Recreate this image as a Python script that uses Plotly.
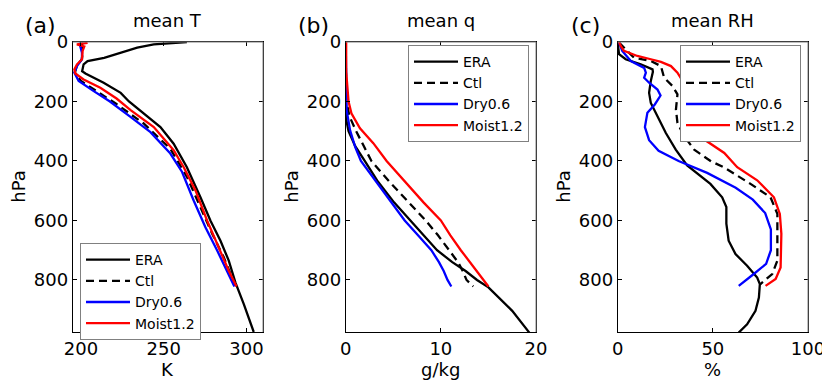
import plotly.graph_objects as go

# ---- panel (a): mean T (K) ----
p_T_era = [0, 8, 19, 36, 53, 64, 75, 98, 106, 137, 171, 200, 240, 286, 342, 421, 522, 600, 668, 735, 808, 881, 975]
T_era = [264, 244, 234, 224, 214, 204, 201.6, 200.7, 202.7, 213.7, 224, 229, 238, 248, 256, 264, 272.2, 278.2, 284.3, 289.3, 293.3, 298.4, 304.4]
p_T_ctl = [2, 13, 36, 58, 81, 103, 131, 165, 207, 274, 359, 454, 555, 645, 724, 820]
T_ctl = [201, 200.5, 201, 200.5, 197.5, 196.3, 200, 209.5, 221, 237.9, 254, 264.1, 272.2, 279.3, 286.3, 293.3]
p_T_dry = [2, 13, 36, 58, 81, 103, 131, 165, 200, 252, 303, 375, 437, 533, 623, 701, 769, 822]
T_dry = [199, 199.6, 200.6, 200.6, 197.6, 196, 198.6, 207.7, 217.5, 229.9, 242, 254, 261.1, 268.1, 275.2, 282.3, 288.3, 292.7]
p_T_moist = [3, 8, 15, 30, 58, 75, 92, 106, 126, 154, 190, 229, 286, 364, 421, 499, 600, 690, 769, 822]
T_moist = [204, 197.5, 202, 201, 200.6, 197.6, 196, 196.6, 201.6, 211.7, 221.5, 230, 244, 256, 262.1, 269.2, 276.2, 283.3, 289.3, 294]

# ---- panel (b): mean q (g/kg) ----
p_q_era = [0, 200, 260, 300, 350, 400, 470, 540, 600, 650, 700, 740, 770, 800, 825, 904, 977]
q_era = [0, 0, 0.05, 0.3, 1.0, 2.0, 3.4, 5.1, 6.8, 8.2, 9.6, 11.2, 12.6, 13.8, 15, 17.5, 19.3]
p_q_ctl = [0, 196, 250, 300, 350, 400, 470, 540, 600, 650, 700, 740, 770, 800, 822]
q_ctl = [0, 0.05, 0.4, 1.1, 1.9, 2.7, 4.6, 6.6, 8.4, 9.7, 10.9, 11.8, 12.3, 12.7, 13.4]
p_q_dry = [0, 229, 297, 353, 400, 470, 540, 600, 650, 700, 740, 770, 800, 822]
q_dry = [0, 0.1, 0.46, 1.0, 1.6, 3.2, 4.8, 6.2, 7.6, 9.0, 9.8, 10.3, 10.7, 11.1]
p_q_moist = [0, 100, 200, 240, 290, 340, 400, 470, 540, 600, 650, 700, 750, 790, 822]
q_moist = [0.05, 0.05, 0.3, 0.6, 1.5, 2.9, 4.3, 6.2, 8.2, 10, 11.0, 12.1, 13.3, 14.2, 15]

# ---- panel (c): mean RH (%) ----
p_rh_era = [2, 41, 58, 75, 92, 100, 131, 171, 205, 250, 306, 362, 415, 477, 522, 555, 611, 668, 713, 752, 792, 814, 859, 904, 949, 977]
rh_era = [0, 0.7, 4.2, 12.1, 18.3, 18.5, 17.4, 16.5, 17.4, 20.9, 25.3, 30.5, 36.5, 48.7, 54.9, 57.1, 57.1, 58.3, 61.9, 68, 73.3, 74.7, 74.2, 72.4, 68, 63.6]
p_rh_ctl = [2, 53, 64, 81, 120, 148, 176, 227, 272, 317, 362, 401, 421, 477, 522, 578, 735, 780, 814]
rh_ctl = [0.7, 8.6, 17.4, 22.7, 24.4, 28.8, 31.4, 30.6, 31.4, 35, 40.2, 49, 55.7, 69.8, 80.3, 83.9, 83.9, 81.2, 75]
p_rh_dry = [2, 30, 64, 87, 103, 120, 137, 160, 180, 210, 238, 286, 330, 366, 400, 440, 490, 530, 575, 630, 700, 746, 780, 820]
rh_dry = [0.7, 2.4, 6.9, 13.9, 14.8, 13.9, 16.5, 20.9, 22.5, 19.5, 15.6, 14.3, 16.5, 21.5, 32, 47, 62, 71, 77.5, 80.5, 80.5, 78, 71.5, 63.6]
p_rh_moist = [0, 13, 30, 47, 58, 67, 81, 103, 130, 160, 200, 240, 283, 328, 373, 421, 465, 522, 578, 645, 758, 797, 820]
rh_moist = [0.7, 1.6, 3.3, 10.3, 17.4, 22.7, 28, 31.4, 34, 36, 36.5, 37, 39.3, 45.5, 56, 62.8, 73.3, 82.1, 85.2, 86, 85.6, 83, 77.7]

names = ["ERA", "Ctl", "Dry0.6", "Moist1.2"]
colors = ["black", "black", "#0000ff", "#ff0000"]
dashes = ["solid", "8px,5px", "solid", "solid"]

panels = [
    ([T_era, T_ctl, T_dry, T_moist], [p_T_era, p_T_ctl, p_T_dry, p_T_moist]),
    ([q_era, q_ctl, q_dry, q_moist], [p_q_era, p_q_ctl, p_q_dry, p_q_moist]),
    ([rh_era, rh_ctl, rh_dry, rh_moist], [p_rh_era, p_rh_ctl, p_rh_dry, p_rh_moist]),
]
titles = ["mean T", "mean q", "mean RH"]
xtitles = ["K", "g/kg", "%"]
letters = ["(a)", "(b)", "(c)"]
xranges = [[195, 310], [0, 20], [0, 100]]
xticks = [[200, 250, 300], [0, 10, 20], [0, 50, 100]]

W, H = 830, 383
OFF = 8  # the page body adds an 8px margin; positions below are in window pixels
left_px = [72.7, 345.7, 617.7]
plot_w = 190.3
top_px, bot_px = 42, 332


def px_x(v):
    return (v - OFF) / W


def px_y(v):
    return (H - (v - OFF)) / H


fig = go.Figure()
legend_ids = ["legend", "legend2", "legend3"]

for i, (xs, ps) in enumerate(panels):
    sfx = "" if i == 0 else str(i + 1)
    for k in range(4):
        fig.add_trace(go.Scatter(
            x=xs[k], y=ps[k], mode="lines", name=names[k],
            line=dict(color=colors[k], width=2.3, dash=dashes[k]),
            xaxis="x" + sfx, yaxis="y" + sfx,
            legend=legend_ids[i],
        ))

font_family = "DejaVu Sans"
axis_common = dict(
    showgrid=False, zeroline=False, showline=True, linecolor="black", linewidth=1,
    mirror="ticks", ticks="inside", ticklen=4, tickcolor="black", automargin=False,
    tickfont=dict(size=18, color="black", family=font_family),
)

layout = dict(
    template="none",
    width=W, height=H, margin=dict(l=0, r=0, t=0, b=0, autoexpand=False),
    paper_bgcolor="white", plot_bgcolor="white",
    font=dict(family=font_family, color="black"),
    annotations=[], shapes=[],
)

legend_pos = [(80, 243), (408, 45), (680, 45)]

for i in range(3):
    sfx = "" if i == 0 else str(i + 1)
    layout["xaxis" + sfx] = dict(
        axis_common, domain=[px_x(left_px[i]), px_x(left_px[i] + plot_w)],
        range=xranges[i], tickvals=xticks[i], anchor="y" + sfx,
    )
    layout["yaxis" + sfx] = dict(
        axis_common, domain=[px_y(bot_px), px_y(top_px)], range=[975, 0],
        tickvals=[0, 200, 400, 600, 800], anchor="x" + sfx,
    )
    cx = px_x(left_px[i] + plot_w / 2)
    layout["annotations"] += [
        dict(text=titles[i], x=cx, y=px_y(20), xref="paper", yref="paper",
             showarrow=False, font=dict(size=18), xanchor="center", yanchor="middle"),
        dict(text=xtitles[i], x=cx, y=px_y(369), xref="paper", yref="paper",
             showarrow=False, font=dict(size=18), xanchor="center", yanchor="middle"),
        dict(text="hPa", x=px_x(left_px[i] - 55), y=px_y(187), xref="paper", yref="paper",
             showarrow=False, font=dict(size=18), textangle=-90,
             xanchor="center", yanchor="middle"),
        dict(text=letters[i], x=px_x(left_px[i] - 32.7), y=px_y(25), xref="paper", yref="paper",
             showarrow=False, font=dict(size=22), xanchor="center", yanchor="middle"),
    ]
    # lighter box edges on top and right, MATLAB style
    layout["shapes"] += [
        dict(type="line", xref="x" + sfx + " domain", yref="y" + sfx + " domain",
             x0=0, x1=1, y0=1, y1=1, line=dict(color="#808080", width=1)),
        dict(type="line", xref="x" + sfx + " domain", yref="y" + sfx + " domain",
             x0=1, x1=1, y0=0, y1=1, line=dict(color="#808080", width=1)),
    ]
    lx, ly = legend_pos[i]
    layout[legend_ids[i]] = dict(
        x=px_x(lx), y=px_y(ly), xanchor="left", yanchor="top",
        bgcolor="white", bordercolor="#808080", borderwidth=1,
        font=dict(size=14, color="black"), tracegroupgap=0, itemwidth=44,
    )

fig.update_layout(layout)
fig.write_html("out.html")
